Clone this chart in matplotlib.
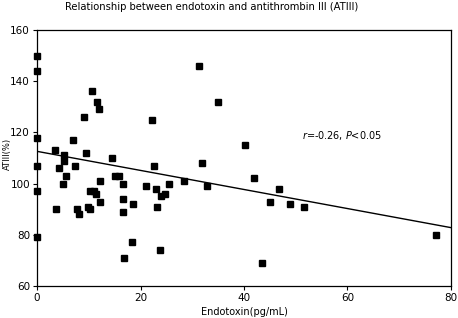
import numpy as np
import matplotlib
matplotlib.use('Agg')
import matplotlib.pyplot as plt

# values
endotoxin = [0, 0, 0, 0, 0, 0,
             3.5, 3.6, 4.25, 5.1, 5.3, 5.3, 5.6,
             7.0, 7.3, 7.7, 8.05,
             9.1, 9.5, 9.85, 10.3, 10.3, 10.6, 11.0, 11.4, 11.6, 12.0, 12.1, 12.1,
             14.5, 15.0, 15.9, 16.6, 16.7, 16.6, 16.9, 18.4, 18.5,
             21.0, 22.2, 22.7, 22.9, 23.1, 23.9, 23.8, 24.7, 25.6, 28.5,
             31.3, 31.9, 32.8, 35.0,
             40.2, 41.9, 43.4, 45.0, 46.8, 48.8, 51.6, 77.1]
atiii = [150, 144, 118, 107, 97, 79,
         113, 90, 106, 100, 111, 109, 103,
         117, 107, 90, 88,
         126, 112, 91, 90, 97, 136, 97, 96, 132, 129, 101, 93,
         110, 103, 103, 100, 94, 89, 71, 77, 92,
         99, 125, 107, 98, 91, 95, 74, 96, 100, 101,
         146, 108, 99, 132,
         115, 102, 69, 93, 98, 92, 91, 80]

# regression line as drawn
fit_intercept = 112.6
fit_slope = -0.3725

x_ticks = [0, 20, 40, 60, 80]
y_ticks = [60, 80, 100, 120, 140, 160]

title = 'Relationship between endotoxin and antithrombin III (ATIII)'
x_label = 'Endotoxin(pg/mL)'
y_label = 'ATIII(%)'

plt.rcParams['font.family'] = ['DejaVu Sans']

fig = plt.figure(figsize=(4.58, 3.18), dpi=100)
ax = fig.add_axes([0.0808, 0.1006, 0.9039, 0.8051])

ax.plot(endotoxin, atiii, 's', color='black', markersize=5, clip_on=False, zorder=3)

line_x = np.array([0, 80])
ax.plot(line_x, fit_intercept + fit_slope * line_x, color='black', linewidth=1.0)

ax.set_xlim(0, 80)
ax.set_ylim(60, 160)
ax.set_xticks(x_ticks)
ax.set_yticks(y_ticks)
ax.tick_params(direction='out', length=3, width=0.8, labelsize=7.5, pad=2)
for s in ax.spines.values():
    s.set_linewidth(0.9)

ax.set_xlabel(x_label, fontsize=7, labelpad=3)
ax.set_ylabel(y_label, fontsize=6)
ax.yaxis.set_label_coords(-0.06, 0.516)
fig.text(0.463, 0.995, title, ha='center', va='top', fontsize=7.2)

ax.text(51.2, 118.6, r'$\it{r}$' + '=-0.26, ' + r'$\it{P}$' + '<0.05',
        fontsize=7, va='center', ha='left')

fig.savefig('out.png', dpi=100)
